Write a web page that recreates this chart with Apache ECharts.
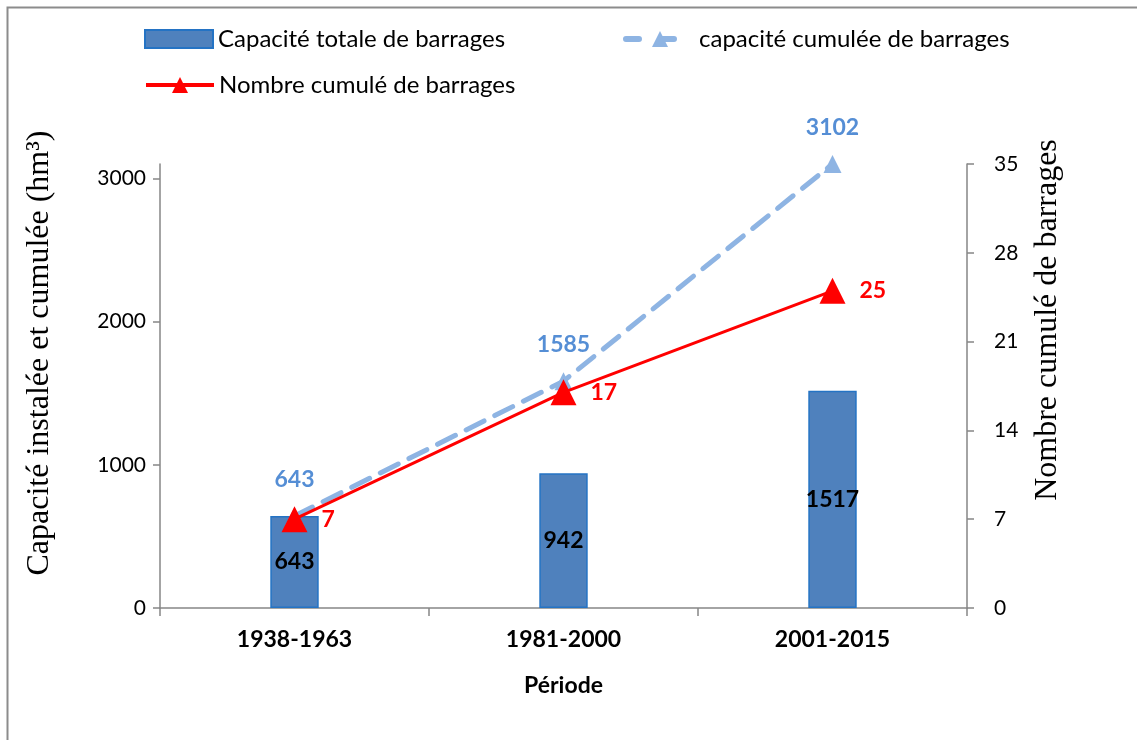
<!DOCTYPE html>
<html>
<head>
<meta charset="utf-8">
<script src="https://cdn.jsdelivr.net/npm/echarts@6/dist/echarts.min.js"></script>
<style>
html,body{margin:0;padding:0;background:#fff;}
#chart{width:1137px;height:740px;}
</style>
</head>
<body>
<div id="chart"></div>
<script>
const categories = ['1938-1963', '1981-2000', '2001-2015'];
const capaciteTotale = [643, 942, 1517];
const capaciteCumulee = [643, 1585, 3102];
const nombreCumule = [7, 17, 25];
const leftTicks = [0, 1000, 2000, 3000];
const rightTicks = [0, 7, 14, 21, 28, 35];

const SANS = 'Lato, "Open Sans", sans-serif';
const SERIF = '"Liberation Serif", "DejaVu Serif", serif';
const AXIS_COLOR = '#868686';

const chart = echarts.init(document.getElementById('chart'));
const legendBase = {
  orient: 'horizontal',
  itemWidth: 68,
  itemHeight: 18,
  itemGap: 8,
  textStyle: { fontFamily: SANS, fontSize: 24, color: '#000' },
  selectedMode: false
};
chart.setOption({
  backgroundColor: '#fff',
  animation: false,
  graphic: [{
    type: 'rect',
    shape: { x: 7.5, y: 7.5, width: 1200, height: 800 },
    style: { fill: 'none', stroke: '#8c8c8c', lineWidth: 2 },
    silent: true
  }, {
    type: 'text',
    x: 40, y: 353,
    rotation: Math.PI / 2,
    style: { text: 'Capacité instalée et cumulée (hm³)', font: '32px ' + SERIF, fill: '#000', align: 'center', verticalAlign: 'middle' },
    silent: true
  }, {
    type: 'text',
    x: 1048, y: 320,
    rotation: Math.PI / 2,
    style: { text: 'Nombre cumulé de barrages', font: '32px ' + SERIF, fill: '#000', align: 'center', verticalAlign: 'middle' },
    silent: true
  }],
  legend: [
    Object.assign({}, legendBase, { left: 139, top: 22, data: [{ name: 'Capacité totale de barrages', icon: 'rect' }] }),
    Object.assign({}, legendBase, { left: 618, top: 22, itemHeight: 20, lineStyle: { width: 6, type: [13, 22] }, data: ['capacité cumulée de barrages'] }),
    Object.assign({}, legendBase, { left: 139, top: 68, itemHeight: 20, lineStyle: { width: 4 }, data: ['Nombre cumulé de barrages'] })
  ],
  grid: { left: 160, right: 170, top: 164, bottom: 132, containLabel: false },
  xAxis: {
    type: 'category',
    data: categories,
    name: 'Période',
    nameLocation: 'middle',
    nameGap: 66,
    nameTextStyle: { fontFamily: SANS, fontSize: 23, fontWeight: 'bold', color: '#000' },
    axisLine: { lineStyle: { color: AXIS_COLOR, width: 1.5 } },
    axisTick: { show: true, length: 8, lineStyle: { color: AXIS_COLOR, width: 1.5 } },
    axisLabel: { margin: 20, fontFamily: SANS, fontSize: 23, fontWeight: 'bold', color: '#000' },
    splitLine: { show: false }
  },
  yAxis: [{
    type: 'value',
    min: 0, max: 3102,
    position: 'left',
    axisLine: { show: true, lineStyle: { color: AXIS_COLOR, width: 1.5 } },
    axisTick: { show: true, length: 7, customValues: leftTicks, lineStyle: { color: AXIS_COLOR, width: 1.5 } },
    axisLabel: { margin: 14, customValues: leftTicks, formatter: function (v) { return String(v); }, fontFamily: SANS, fontSize: 21, color: '#000' },
    splitLine: { show: false }
  }, {
    type: 'value',
    min: 0, max: 35, interval: 7,
    position: 'right',
    axisLine: { show: true, lineStyle: { color: AXIS_COLOR, width: 1.5 } },
    axisTick: { show: true, length: 7, lineStyle: { color: AXIS_COLOR, width: 1.5 } },
    axisLabel: { margin: 27, fontFamily: SANS, fontSize: 21, color: '#000' },
    splitLine: { show: false }
  }],
  series: [{
    name: 'Capacité totale de barrages',
    type: 'bar',
    yAxisIndex: 0,
    data: capaciteTotale,
    barWidth: '18%',
    itemStyle: { color: '#4F81BD', borderColor: '#2473C4', borderWidth: 1.5 },
    label: { show: true, position: 'inside', fontFamily: SANS, fontSize: 23, fontWeight: 'bold', color: '#000' },
    z: 2
  }, {
    name: 'capacité cumulée de barrages',
    type: 'line',
    yAxisIndex: 0,
    data: capaciteCumulee,
    clip: false,
    symbol: 'triangle',
    symbolSize: 18,
    itemStyle: { color: '#8EB4E3' },
    lineStyle: { color: '#8EB4E3', width: 5, type: [20, 12], cap: 'round' },
    label: { show: true, position: 'top', distance: 16, fontFamily: SANS, fontSize: 23, fontWeight: 'bold', color: '#558ED5' },
    z: 3
  }, {
    name: 'Nombre cumulé de barrages',
    type: 'line',
    yAxisIndex: 1,
    data: nombreCumule,
    clip: false,
    symbol: 'triangle',
    symbolSize: 26,
    itemStyle: { color: '#FF0000' },
    lineStyle: { color: '#FF0000', width: 3 },
    label: { show: true, position: 'right', distance: 14, fontFamily: SANS, fontSize: 23, fontWeight: 'bold', color: '#FF0000' },
    z: 4
  }]
});
</script>
</body>
</html>
